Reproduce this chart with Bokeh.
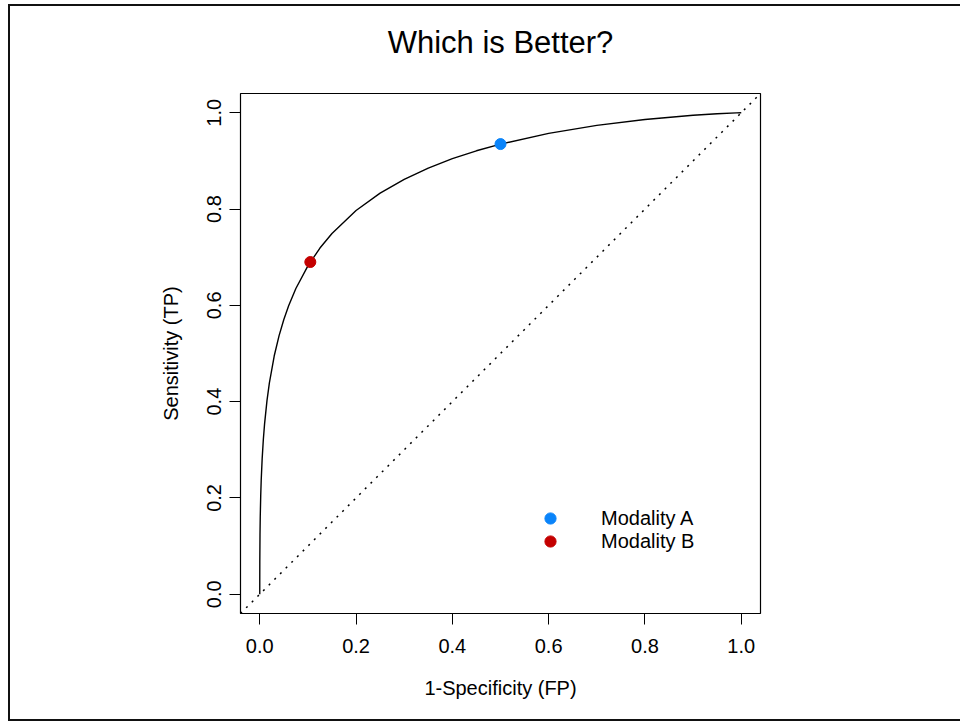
from bokeh.plotting import figure
from bokeh.models import Range1d, FixedTicker, Slope, Legend, LegendItem
from bokeh.embed import file_html
from bokeh.resources import INLINE

# ROC curve (false-positive fraction vs true-positive fraction)
fpf = [0.0, 1e-6, 1e-5, 1e-4, 0.0005, 0.001, 0.002, 0.003, 0.005, 0.0075,
       0.01, 0.015, 0.02, 0.03, 0.04, 0.05, 0.06, 0.075, 0.1, 0.125, 0.15,
       0.2, 0.25, 0.3, 0.35, 0.4, 0.45, 0.5, 0.6, 0.7, 0.8, 0.9, 0.95, 0.99, 1.0]
tpf = [0.0, 0.0095, 0.0256, 0.0660, 0.1234, 0.1599, 0.2053, 0.2367, 0.2817, 0.3224,
       0.3538, 0.4021, 0.4388, 0.4948, 0.5367, 0.5706, 0.5991, 0.6350, 0.6819, 0.7190, 0.7492,
       0.7970, 0.8330, 0.8617, 0.8851, 0.9046, 0.9210, 0.9349, 0.9573, 0.9738, 0.9860, 0.9947, 0.9978, 0.9997, 1.0]

# operating points of the two modalities
modalities = ["Modality A", "Modality B"]
point_fp = [0.5, 0.105]
point_tp = [0.935, 0.690]
point_colors = ["#0A84FA", "#C40000"]

ticks = [0.0, 0.2, 0.4, 0.6, 0.8, 1.0]
tick_labels = {t: f"{t:.1f}" for t in ticks}

FONT = "Liberation Sans"

p = figure(width=960, height=733, output_backend="svg", toolbar_location=None,
           x_range=Range1d(-0.04, 1.04), y_range=Range1d(-0.04, 1.04),
           min_border_left=240, min_border_right=200,
           min_border_top=105, min_border_bottom=108,
           title="Which is Better?")

# page frame (left, top and bottom rules) painted as CSS background lines;
# the canvas margin is transparent so the rules show through
rule = "linear-gradient(#111,#111)"
p.styles = {
    "margin-top": "-12px",
    "background": (f"{rule} 8px 16px / 2px 717px no-repeat, "
                   f"{rule} 8px 16px / 952px 2px no-repeat, "
                   f"{rule} 8px 731px / 952px 2px no-repeat"),
}
p.border_fill_color = None
p.border_fill_alpha = 0
p.background_fill_color = "white"
p.grid.visible = False
p.outline_line_color = "black"
p.outline_line_width = 1.2

p.title.align = "center"
p.title.text_font = FONT
p.title.text_font_style = "normal"
p.title.text_font_size = "31px"
p.title.text_color = "black"
p.title.standoff = 67

for ax in (p.xaxis[0], p.yaxis[0]):
    ax.ticker = FixedTicker(ticks=ticks)
    ax.major_label_overrides = tick_labels
    ax.axis_line_color = None
    ax.major_tick_in = 0
    ax.major_tick_out = 11
    ax.major_tick_line_color = "black"
    ax.major_tick_line_width = 1
    ax.minor_tick_line_color = None
    ax.major_label_text_font = FONT
    ax.major_label_text_font_size = "20px"
    ax.major_label_text_color = "black"
    ax.axis_label_text_font = FONT
    ax.axis_label_text_font_size = "20px"
    ax.axis_label_text_font_style = "normal"
    ax.axis_label_text_color = "black"

p.xaxis.axis_label = "1-Specificity (FP)"
p.yaxis.axis_label = "Sensitivity (TP)"
p.xaxis.major_label_standoff = 14
p.xaxis.axis_label_standoff = 21
p.yaxis.major_label_orientation = "vertical"
p.yaxis.major_label_standoff = 8
p.yaxis.axis_label_standoff = 23

# chance diagonal
p.add_layout(Slope(gradient=1, y_intercept=0, line_color="black",
                   line_width=1.5, line_dash="2 6"))

# ROC curve
p.line(fpf, tpf, line_color="black", line_width=1.4)

# operating points, each with its own key entry
legend_y = [81, 58]
for name, fx, ty, col, ly in zip(modalities, point_fp, point_tp, point_colors, legend_y):
    r = p.scatter([fx], [ty], size=11, fill_color=col, line_color=col,
                  marker="circle")
    leg = Legend(items=[LegendItem(label=name, renderers=[r])],
                 location=(296, ly),
                 border_line_alpha=0, background_fill_alpha=0,
                 padding=0, margin=0, spacing=0,
                 glyph_width=28, glyph_height=28, label_height=20,
                 label_standoff=37,
                 label_text_font=FONT, label_text_font_size="20px",
                 label_text_color="black")
    p.add_layout(leg, "center")

open("out.html", "w").write(file_html(p, INLINE))
